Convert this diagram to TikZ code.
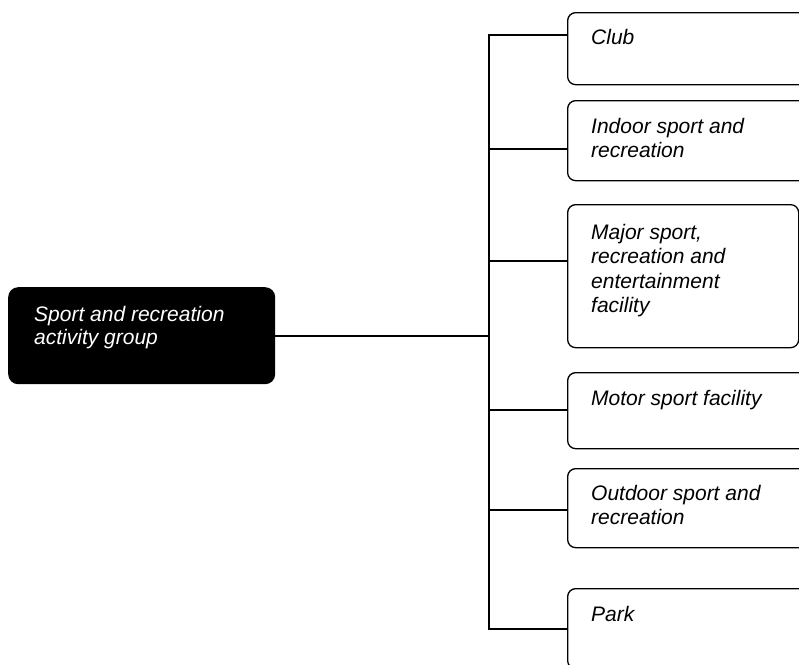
\documentclass[tikz,border=0pt]{standalone}
\usepackage{fontspec}
\setmainfont{Liberation Sans}
\begin{document}
\begin{tikzpicture}[x=1pt,y=-1pt,
  catbox/.style={draw=black,line width=1.3pt,rounded corners=8pt,fill=white,anchor=north west,inner sep=0pt},
  rootbox/.style={fill=black,rounded corners=10pt,anchor=north west,inner sep=0pt,minimum width=267pt,minimum height=97pt},
  lbl/.style={anchor=north west,inner sep=0pt,align=left,font=\fontsize{21}{24.5}\selectfont\itshape},
  rootlbl/.style={anchor=north west,inner sep=0pt,align=left,text=white,font=\fontsize{21}{22.7}\selectfont\itshape},
  conn/.style={line width=1.3pt,line cap=rect}]
\useasboundingbox (0,0) rectangle (799,664);
\clip (0,0) rectangle (799,664);
% root
\node[rootbox] (root) at (8,287) {};
\node[rootlbl] (roott) at (34,306) {Sport and recreation\\activity group};
% spine coordinates
\coordinate (s0) at (489,336);
\coordinate (s1) at (489,35);
\coordinate (s2) at (489,149);
\coordinate (s3) at (489,261);
\coordinate (s4) at (489,410);
\coordinate (s5) at (489,510);
\coordinate (s6) at (489,629);
% boxes
\node[catbox,minimum width=250pt,minimum height=72pt] (club) at (567,12) {};
\node[catbox,minimum width=250pt,minimum height=80pt] (indoor) at (567,100) {};
\node[catbox,minimum width=231pt,minimum height=143pt] (major) at (567,204) {};
\node[catbox,minimum width=250pt,minimum height=76pt] (motor) at (567,372) {};
\node[catbox,minimum width=250pt,minimum height=79pt] (outdoor) at (567,468) {};
\node[catbox,minimum width=250pt,minimum height=80pt] (park) at (567,588) {};
% labels
\node[lbl] (clubt) at (591,29) {Club};
\node[lbl] (indoort) at (591,118) {Indoor sport and\\recreation};
\node[lbl] (majort) at (591,224) {Major sport,\\recreation and\\entertainment\\facility};
\node[lbl] (motort) at (591,390) {Motor sport facility};
\node[lbl] (outdoort) at (591,485) {Outdoor sport and\\recreation};
\node[lbl] (parkt) at (591,606) {Park};
% connectors
\draw[conn] (root.east |- s0) -- (s0);
\draw[conn] (s1) -- (s6);
\draw[conn] (s1) -- (s1 -| club.west);
\draw[conn] (s2) -- (s2 -| indoor.west);
\draw[conn] (s3) -- (s3 -| major.west);
\draw[conn] (s4) -- (s4 -| motor.west);
\draw[conn] (s5) -- (s5 -| outdoor.west);
\draw[conn] (s6) -- (s6 -| park.west);
\end{tikzpicture}
\end{document}
